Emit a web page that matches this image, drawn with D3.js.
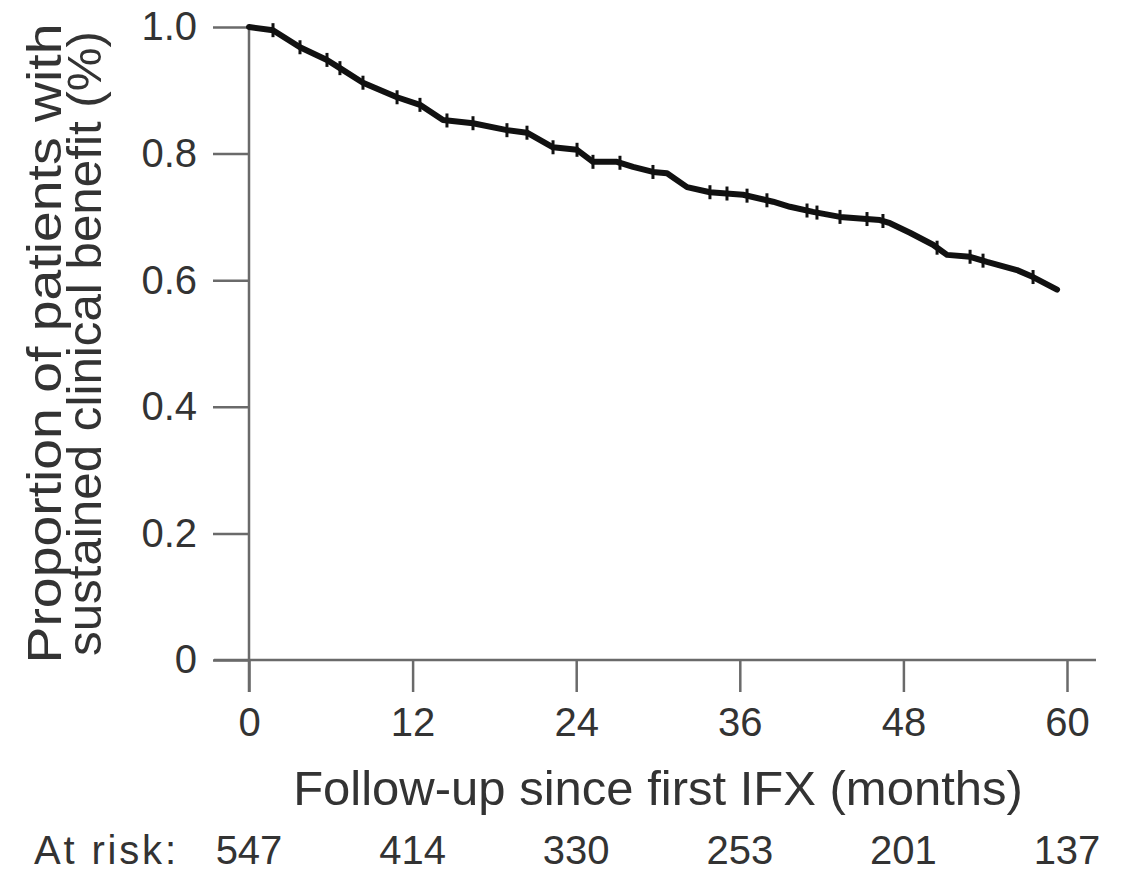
<!DOCTYPE html>
<html lang="en">
<head>
    <meta charset="UTF-8">
    <title>Sustained clinical benefit after first IFX</title>
    <script src="https://d3js.org/d3.v7.min.js"></script>
    <style>
        body { margin: 0; background: #fff; }
        text { font-family: "Liberation Sans", Arial, sans-serif; fill: #333; }
    </style>
</head>
<body>
    <svg width="1128" height="875"></svg>
    <script>
        // Kaplan-Meier estimate (months, proportion)
        var months = [0, 1.76, 3.74, 5.72, 6.67, 8.36, 10.86, 12.54, 14.23, 16.43, 18.92, 20.39,
            22.3, 24.06, 25.23, 26.99, 28.17, 29.63, 30.66, 32.13, 33.81, 36.24, 38.44, 39.68,
            41.37, 43.35, 46.28, 47.02, 48.48, 50.17, 51.2, 52.89, 54.13, 56.33, 57.51, 59.27];
        var survival = [1.0, 0.995, 0.968, 0.948, 0.935, 0.912, 0.889, 0.877, 0.853, 0.848, 0.837, 0.833,
            0.810, 0.806, 0.787, 0.787, 0.779, 0.771, 0.769, 0.747, 0.739, 0.735, 0.724, 0.716,
            0.708, 0.700, 0.695, 0.690, 0.675, 0.656, 0.640, 0.637, 0.629, 0.616, 0.605, 0.585];
        // censoring marks (months)
        var censorMonths = [1.76, 3.74, 5.72, 6.67, 8.36, 10.86, 12.54, 14.52, 16.43, 18.92, 20.39, 22.3,
            24.06, 25.23, 27.21, 29.63, 33.81, 35.06, 36.53, 37.99, 40.93, 41.66, 43.35, 45.33,
            46.5, 50.47, 52.89, 53.84, 57.51];

        var xTicks = [0, 12, 24, 36, 48, 60];
        var yTicks = [0, 0.2, 0.4, 0.6, 0.8, 1.0];
        var atRisk = [547, 414, 330, 253, 201, 137];

        var svg = d3.select("svg");
        var axisColor = "#6a6a6a";

        var x = d3.scaleLinear().domain([0, 60]).range([249, 1067]);
        var y = d3.scaleLinear().domain([0, 1]).range([660, 27]);

        // axes
        var yAxis = d3.axisLeft(y)
            .tickValues(yTicks)
            .tickSize(36)
            .tickPadding(16)
            .tickFormat(function(d) { return d === 0 ? "0" : d.toFixed(1); });
        var gy = svg.append("g").attr("transform", "translate(" + x(0) + ",0)").call(yAxis);
        gy.select(".domain").remove();
        gy.selectAll("line").attr("stroke", axisColor).attr("stroke-width", 2.5);
        gy.selectAll("text").style("font-size", "40px").attr("fill", "#333");

        var xAxis = d3.axisBottom(x)
            .tickValues(xTicks)
            .tickSize(32)
            .tickPadding(16);
        var gx = svg.append("g").attr("transform", "translate(0," + y(0) + ")").call(xAxis);
        gx.select(".domain").remove();
        gx.selectAll("line").attr("stroke", axisColor).attr("stroke-width", 2.5);
        gx.selectAll("text").style("font-size", "40px").attr("fill", "#333");

        // axis lines (they cross at the origin)
        svg.append("line")
            .attr("x1", x(0)).attr("x2", x(0))
            .attr("y1", y(1)).attr("y2", y(0) + 32)
            .attr("stroke", axisColor).attr("stroke-width", 2.5);
        svg.append("line")
            .attr("x1", x(0) - 35).attr("x2", x(60) + 29)
            .attr("y1", y(0)).attr("y2", y(0))
            .attr("stroke", axisColor).attr("stroke-width", 2.5);

        // survival curve
        var pts = months.map(function(m, i) { return [m, survival[i]]; });
        var line = d3.line()
            .x(function(d) { return x(d[0]); })
            .y(function(d) { return y(d[1]); });
        svg.append("path")
            .datum(pts)
            .attr("d", line)
            .attr("fill", "none")
            .attr("stroke", "#111")
            .attr("stroke-width", 6)
            .attr("stroke-linejoin", "round")
            .attr("stroke-linecap", "round");

        // censor ticks sit on the curve
        var onCurve = d3.scaleLinear().domain(months).range(survival);
        svg.selectAll(".censor")
            .data(censorMonths)
            .enter().append("line")
            .attr("class", "censor")
            .attr("x1", function(d) { return x(d); })
            .attr("x2", function(d) { return x(d); })
            .attr("y1", function(d) { return y(onCurve(d)) - 7; })
            .attr("y2", function(d) { return y(onCurve(d)) + 7; })
            .attr("stroke", "#111")
            .attr("stroke-width", 3);

        // titles
        svg.append("text")
            .attr("x", (x(0) + x(60)) / 2)
            .attr("y", 805)
            .attr("text-anchor", "middle")
            .style("font-size", "49px")
            .text("Follow-up since first IFX (months)");

        var yMid = (y(0) + y(1)) / 2;
        svg.append("text")
            .attr("transform", "translate(61," + yMid + ") rotate(-90)")
            .attr("text-anchor", "middle")
            .attr("textLength", 640)
            .attr("lengthAdjust", "spacingAndGlyphs")
            .style("font-size", "49px")
            .text("Proportion of patients with");
        svg.append("text")
            .attr("transform", "translate(101," + yMid + ") rotate(-90)")
            .attr("text-anchor", "middle")
            .attr("textLength", 625)
            .attr("lengthAdjust", "spacingAndGlyphs")
            .style("font-size", "49px")
            .text("sustained clinical benefit (%)");

        // numbers at risk
        svg.append("text")
            .attr("x", 34)
            .attr("y", 864)
            .attr("textLength", 142)
            .style("font-size", "40px")
            .text("At risk:");
        svg.selectAll(".risk")
            .data(atRisk)
            .enter().append("text")
            .attr("class", "risk")
            .attr("x", function(d, i) { return x(xTicks[i]); })
            .attr("y", 864)
            .attr("text-anchor", "middle")
            .style("font-size", "40px")
            .text(function(d) { return d; });
    </script>
</body>
</html>
